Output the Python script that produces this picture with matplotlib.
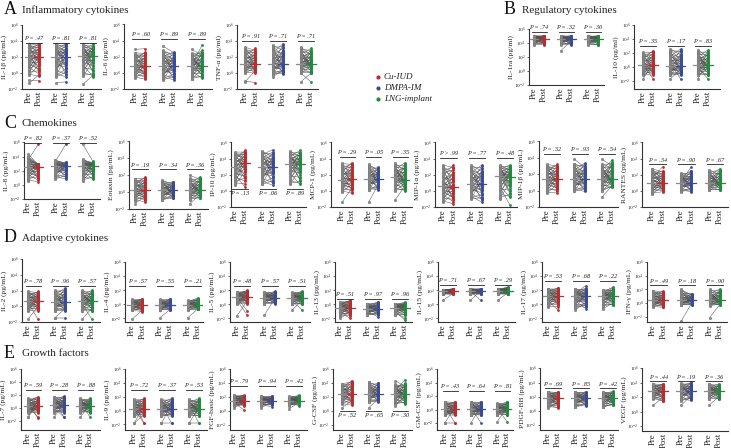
import matplotlib
matplotlib.use("Agg")
import matplotlib.pyplot as plt
from matplotlib.ticker import FixedLocator, LogFormatterSciNotation
from matplotlib.collections import LineCollection

plt.rcParams['font.family'] = ['Liberation Serif', 'DejaVu Serif']
plt.rcParams['mathtext.fontset'] = 'stix'

# ---------------- data (log10 pg/mL) ----------------
GROUPS = ["Cu-IUD", "DMPA-IM", "LNG-implant"]
GROUP_COLORS = ["#BE2A2E", "#3A4A9A", "#1F8B3F"]
TIMEPOINTS = ["Pre", "Post"]

CYTOKINES = ["IL-1β", "IL-6", "TNF-α", "IL-1ra", "IL-10",
             "IL-8", "Eotaxin", "IP-10", "MCP-1", "MIP-1α", "MIP-1β", "RANTES",
             "IL-2", "IL-4", "IL-5", "IL-13", "IL-15", "IL-17", "IFN-γ",
             "IL-7", "IL-9", "FGF-basic", "G-CSF", "GM-CSF", "PDGF-BB", "VEGF"]
UNITS = ["(pg/mL)", "(pg/ml)", "(pg/ml)", "(pg/ml)", "(pg/ml)"] + ["(pg/mL)"] * 21

P_VALUES = [["= .47", "= .81", "= .81"], ["= .60", "= .89", "= .89"], ["= .91", "= .71", "= .71"],
            ["= .74", "= .32", "= .36"], ["= .35", "= .17", "= .83"],
            ["= .82", "= .37", "= .52"], ["= .19", "= .34", "= .36"], ["= .13", "= .06", "= .89"],
            ["= .29", "= .05", "= .35"], ["> .99", "= .77", "= .48"], ["= .32", "= .93", "= .54"],
            ["= .34", "= .90", "= .67"],
            ["= .78", "= .96", "= .57"], ["= .57", "= .55", "= .21"], ["= .48", "= .57", "= .51"],
            ["= .51", "= .97", "= .96"], ["= .71", "= .67", "= .29"], ["= .53", "= .68", "= .22"],
            ["= .49", "= .18", "= .90"],
            ["= .59", "= .28", "= .88"], ["= .72", "= .37", "= .53"], ["= .79", "= .94", "= .42"],
            ["= .52", "= .65", "= .30"], ["= .43", "= .64", "= .81"], ["= .69", "= .85", "= .42"],
            ["= .44", "= .19", "= .36"]]

# main body of each column: low, median, high (log10), per group
PRE_LO = [[-0.3, -0.5, -0.4], [-0.6, -0.85, -0.8], [0.0, -0.2, 0.0], [3.8, 3.8, 3.8], [-1.2, -1.2, -1.2],
          [0.6, 0.85, 0.6], [-1.0, -0.95, -0.9], [0.7, 0.8, 0.8], [-0.1, 0.1, 0.0], [-1.4, -1.0, -1.0],
          [-0.3, -0.1, -0.1], [-0.4, -0.1, 0.07],
          [-0.6, -0.6, -0.6], [-0.8, -0.8, -0.8], [0.1, 0.1, 0.0], [-1.6, -1.5, -1.5], [1.45, 1.45, 1.45],
          [-0.35, -0.5, -0.3], [-0.55, -0.3, -0.4],
          [-0.7, -0.7, -0.7], [-0.8, -0.8, -0.8], [0.8, 0.8, 0.8], [1.0, 1.3, 1.0], [-0.8, -0.8, -0.75],
          [0.5, 0.5, 0.5], [1.75, 1.5, 1.75]]
PRE_MED = [[2.0, 2.0, 2.1], [0.8, 0.85, 0.85], [1.2, 1.2, 1.2], [4.6, 4.6, 4.6], [0.2, 0.1, 0.2],
           [2.5, 2.6, 2.7], [0.2, 0.2, 0.2], [2.95, 2.95, 3.3], [1.3, 1.5, 1.7], [0.57, 0.9, 1.9],
           [1.4, 1.4, 1.4], [1.0, 1.0, 1.0],
           [0.65, 0.5, 0.65], [-0.1, -0.1, -0.1], [1.05, 0.95, 0.95], [-0.45, -0.6, -0.45], [1.9, 1.9, 1.9],
           [1.15, 1.15, 1.15], [0.4, 0.4, 0.4],
           [0.3, 0.45, 0.3], [0.3, 0.3, 0.3], [1.5, 1.5, 1.5], [2.5, 2.5, 2.4], [0.05, 0.05, 0.1],
           [1.75, 1.75, 1.75], [2.8, 2.85, 2.8]]
PRE_HI = [[3.7, 3.7, 3.7], [2.5, 2.8, 2.5], [3.25, 3.5, 3.3], [5.1, 5.1, 5.1], [2.1, 2.6, 2.45],
          [4.0, 3.5, 3.6], [1.6, 1.4, 1.7], [4.8, 4.9, 4.9], [3.4, 3.3, 3.4], [3.2, 3.2, 3.2],
          [3.2, 3.3, 3.3], [2.75, 2.2, 2.6],
          [1.9, 2.05, 2.05], [0.73, 0.73, 0.6], [1.75, 1.75, 1.75], [0.35, 0.1, 0.1], [2.1, 2.25, 2.25],
          [2.25, 2.25, 2.1], [1.8, 2.0, 2.0],
          [1.5, 1.75, 1.5], [1.65, 1.65, 1.65], [2.3, 2.15, 2.15], [3.95, 4.2, 3.9], [1.2, 1.2, 0.95],
          [2.7, 2.7, 2.7], [3.85, 3.9, 3.85]]
POST_LO = [[-0.4, -0.5, -0.45], [-0.8, -0.85, -0.6], [0.0, -0.1, 0.0], [3.8, 3.8, 3.7], [-1.2, -1.2, -1.2],
           [0.4, 0.85, 0.85], [-1.15, -0.75, -0.75], [0.9, 0.7, 0.8], [-0.3, 0.1, 0.0], [-1.6, -1.4, -0.8],
           [-0.3, -0.1, 0.4], [-0.1, -0.1, 0.07],
           [-0.6, -0.6, -0.6], [-1.05, -0.8, -0.7], [0.1, 0.1, 0.0], [-1.6, -1.5, -1.5], [1.45, 1.45, 1.45],
           [-0.3, -0.4, -0.1], [-0.65, -0.3, -0.3],
           [-0.7, -0.7, -0.7], [-0.8, -0.8, -0.8], [0.8, 0.9, 1.0], [0.85, 1.3, 1.1], [-0.8, -0.8, -0.75],
           [0.5, 0.7, 0.8], [1.45, 1.55, 1.75]]
POST_MED = [[2.0, 2.0, 2.1], [0.8, 0.85, 0.85], [1.2, 1.2, 1.2], [4.6, 4.6, 4.6], [0.2, 0.1, 0.2],
            [2.5, 2.6, 2.7], [0.2, 0.2, 0.2], [3.4, 2.95, 3.3], [1.5, 1.5, 1.3], [0.5, 0.9, 1.7],
            [1.4, 1.4, 1.4], [1.0, 1.0, 1.0],
            [0.65, 0.5, 0.65], [-0.1, -0.1, -0.1], [1.05, 0.95, 0.95], [-0.45, -0.6, -0.45], [1.9, 1.9, 1.9],
            [1.15, 1.15, 1.15], [0.4, 0.4, 0.4],
            [0.3, 0.45, 0.3], [0.3, 0.3, 0.3], [1.5, 1.5, 1.5], [2.5, 2.5, 2.4], [0.05, 0.05, 0.1],
            [1.75, 1.75, 1.75], [2.8, 2.85, 2.8]]
POST_HI = [[3.7, 3.7, 3.6], [2.6, 2.6, 2.8], [3.1, 3.7, 3.1], [5.1, 5.1, 5.1], [2.35, 2.6, 2.45],
           [3.0, 3.2, 3.2], [1.8, 1.2, 1.8], [5.0, 4.8, 5.0], [3.5, 2.9, 3.5], [3.2, 3.2, 3.2],
           [3.2, 3.35, 3.7], [2.5, 2.5, 2.75],
           [1.9, 2.35, 2.05], [0.8, 0.8, 0.95], [2.0, 1.85, 1.9], [0.6, 0.35, 0.35], [2.25, 2.25, 2.5],
           [2.4, 2.3, 2.5], [1.8, 1.4, 2.1],
           [1.75, 1.85, 1.5], [1.8, 1.8, 1.8], [2.3, 2.15, 2.3], [4.4, 4.05, 4.0], [1.2, 1.2, 1.2],
           [2.7, 2.7, 2.8], [3.85, 4.05, 3.85]]

# relative position of each subject inside the body (-1 = low, 0 = median, 1 = high), per group
Z_PRE = [
    [-1.00, -0.93, -0.85, -0.78, -0.70, -0.62, -0.55, -0.48, -0.41, -0.35, -0.28, -0.22, -0.16, -0.10,
     -0.05, 0.00, 0.04, 0.09, 0.14, 0.19, 0.25, 0.31, 0.37, 0.43, 0.49, 0.55, 0.61, 0.67, 0.73, 0.79,
     0.85, 0.91, 0.96, 1.00, -0.30, 0.22],
    [-0.97, -0.90, -0.82, -0.74, -0.66, -0.58, -0.51, -0.44, -0.37, -0.30, -0.24, -0.18, -0.12, -0.07,
     -0.02, 0.03, 0.08, 0.13, 0.18, 0.24, 0.30, 0.36, 0.42, 0.48, 0.54, 0.60, 0.66, 0.72, 0.78, 0.84,
     0.90, 0.95, 1.00, -1.00, 0.10, -0.40],
    [-1.00, -0.88, -0.80, -0.71, -0.64, -0.57, -0.50, -0.43, -0.36, -0.29, -0.23, -0.17, -0.11, -0.06,
     -0.01, 0.05, 0.10, 0.15, 0.21, 0.27, 0.33, 0.39, 0.45, 0.51, 0.57, 0.63, 0.69, 0.75, 0.81, 0.87,
     0.93, 1.00, -0.95, 0.40, -0.20, 0.65]]
Z_POST = [
    [-0.40, -1.00, 0.15, -0.72, -0.20, 0.35, -0.88, -0.05, -0.60, 0.50, -0.30, 0.10, -0.45, 0.70,
     -0.12, 0.25, -0.55, 0.40, 0.00, 0.85, -0.25, 0.60, -0.80, 0.30, 1.00, -0.15, 0.78, 0.05, 0.92,
     0.45, -0.35, 0.65, 0.20, 0.88, -0.65, 0.55],
    [0.20, -0.60, -1.00, 0.45, -0.85, 0.05, -0.30, 0.70, -0.50, -0.10, 0.30, -0.70, 0.55, 0.00,
     -0.40, 0.95, -0.20, 0.15, -0.90, 0.60, 0.38, -0.05, 0.80, -0.35, 0.25, 1.00, -0.15, 0.50, 0.10,
     -0.55, 0.85, 0.35, 0.65, -0.75, 0.40, -0.25],
    [-0.25, 0.40, -0.95, -0.10, 0.60, -0.65, 0.15, -1.00, 0.35, -0.45, 0.80, -0.20, 0.05, 0.50,
     -0.70, 0.25, -0.35, 0.90, -0.05, 0.45, -0.80, 0.70, 0.10, -0.55, 1.00, 0.30, -0.15, 0.65, -0.40,
     0.85, 0.20, 0.55, -0.85, 0.00, 0.75, -0.30]]

# subjects lying outside the main body: (panel index, group, pre, post)
EXTRA_SUBJECTS = [
    (0, 0, -1.3, -0.2), (0, 0, -0.9, -0.95), (0, 1, -1.2, -1.1), (0, 2, -1.4, -0.3),
    (1, 0, 2.9, 3.0), (1, 1, 3.3, 2.5), (1, 2, 1.0, 3.4), (1, 2, 2.9, 2.2),
    (2, 0, -1.0, -1.2), (2, 0, -1.1, 0.3), (2, 1, -0.45, 0.4), (2, 2, -1.1, 0.0), (2, 2, 0.0, -1.1),
    (3, 1, 2.95, 4.3),
    (4, 0, -1.75, 0.5), (4, 0, 0.3, -1.75), (4, 1, -1.75, -0.3), (4, 1, 0.5, -1.75),
    (4, 2, -1.75, 0.8), (4, 2, 0.0, -1.75),
    (5, 0, 3.5, 5.7), (5, 0, 4.4, 2.8), (5, 1, 3.3, 5.7), (5, 2, 5.7, 3.3),
    (6, 0, -1.35, -0.5), (6, 2, 2.0, 1.5), (6, 2, -1.35, -0.3),
    (7, 0, 2.0, 0.45), (7, 1, 4.5, 5.1),
    (8, 0, -1.4, 0.3), (8, 1, -1.4, 0.8), (8, 2, -1.1, 0.6),
    (9, 2, 0.5, -1.75),
    (10, 1, 3.85, 2.8), (10, 2, 3.85, 3.0), (10, 2, -0.8, 0.6),
    (11, 0, 1.5, 3.0), (11, 1, 1.2, 2.95),
    (12, 0, -1.65, 0.0), (12, 0, 0.5, -1.65), (12, 1, -1.45, -0.3), (12, 1, -1.45, -1.45),
    (12, 2, -1.65, -0.2), (12, 2, 0.3, -1.65),
    (13, 0, -2.1, -0.8), (13, 1, -1.9, -0.7), (13, 2, -1.9, -0.6),
    (14, 0, -1.6, 0.5), (14, 0, 0.6, -1.5), (14, 0, 1.0, -0.9), (14, 1, -1.5, 0.8),
    (14, 2, -0.85, 0.6), (14, 2, 0.5, -0.75),
    (15, 0, -2.0, -1.0), (15, 0, -1.0, -2.0), (15, 1, -1.0, -1.75), (15, 2, -1.0, -2.2), (15, 2, -1.2, -1.9),
    (16, 0, 0.6, 1.6), (16, 1, 0.6, 1.9), (16, 1, 1.9, 0.6), (16, 2, 0.6, 1.7),
    (17, 0, 0.5, -0.8), (17, 1, -0.8, 0.3), (17, 1, 1.5, 2.7), (17, 1, 0.5, -0.6), (17, 2, -0.6, 0.2),
    (18, 1, -2.65, 0.0), (18, 2, -2.15, -0.2),
    (19, 0, -1.4, 0.5), (19, 0, 1.0, -1.5), (19, 0, 0.3, -1.4), (19, 0, -1.4, 1.2),
    (19, 1, -1.4, 0.8), (19, 1, 1.2, -1.4), (19, 1, 0.0, -1.4), (19, 2, -1.4, 0.6), (19, 2, 1.0, -1.4),
    (20, 0, -1.85, 0.8), (20, 0, 1.2, -1.85), (20, 0, 0.3, -1.85), (20, 0, -1.85, -0.5),
    (20, 1, -1.85, 1.0), (20, 1, 1.0, -1.85), (20, 1, -1.85, -1.85),
    (20, 2, -1.85, 0.5), (20, 2, 1.0, -1.85), (20, 2, -1.85, -1.85),
    (21, 0, 0.5, 1.2), (21, 0, 1.2, 0.15), (21, 1, 0.5, 1.3), (21, 1, 1.0, 0.6),
    (21, 2, 0.35, 1.2), (21, 2, 1.2, 0.8),
    (22, 0, 0.5, 1.5), (22, 1, 0.5, 1.7), (22, 2, 4.4, 3.5), (22, 2, 0.7, 2.2), (22, 2, 3.0, 4.5),
    (23, 0, -1.9, 0.3), (23, 0, 0.5, -1.9), (23, 0, -1.9, -1.9), (23, 1, -1.9, 0.5), (23, 1, 0.3, -1.9),
    (23, 2, -1.75, 0.4), (23, 2, 0.2, -1.75),
    (24, 0, 0.35, 1.2), (24, 0, 1.0, 0.35), (24, 2, 0.5, 1.0),
    (25, 0, 0.85, 2.0), (25, 0, 2.0, 1.45), (25, 1, 0.85, 2.2), (25, 2, 0.85, 2.1)]

# ---------------- layout (pixels) ----------------
W, H, DPI = 731, 448, 100
# spine x, first Pre x, last Post x, right end x, top y (10^6), bottom y, log10 of axis bottom
PANEL_BOX = [(22, 29, 93, 101, 25, 89, -2), (124, 135, 202, 212, 24, 89, -2), (237, 245, 311, 318, 25, 89, -2),
             (529, 534, 598, 604, 29, 85, -2), (634, 643, 708, 720, 25, 89, -3.2),
             (24, 28, 93, 100, 142, 199, -2), (129, 135, 200, 208, 141, 209, -2), (231, 235, 300, 306, 142, 207, -2),
             (331, 342, 405, 412, 142, 207, -2), (435, 443, 510, 517, 142, 207, -2),
             (539, 547, 612, 618, 141, 207, -2), (642, 652, 720, 728, 142, 207, -2),
             (22, 28, 92, 100, 259, 322, -2), (125, 132, 198, 203, 262, 322, -2.5), (230, 237, 302, 310, 262, 322, -2.5),
             (335, 340, 405, 412, 262, 322, -2.5), (438, 443, 508, 515, 262, 322, -2.5),
             (542, 548, 613, 620, 262, 322, -2.5), (647, 653, 720, 727, 262, 322, -2.8),
             (21, 28, 90, 100, 369, 430, -3.4), (125, 134, 199, 207, 369, 430, -2.8), (230, 234, 299, 307, 369, 430, -2.7),
             (333, 342, 405, 412, 369, 430, -2.7), (437, 445, 507, 513, 369, 430, -3.0),
             (540, 548, 613, 618, 368, 430, -2.7), (642, 653, 719, 728, 368, 431, -2.7)]
P_BAR = [3.8, 4.2, 4.1, 5.6, 3.0, 5.9, 2.7, 0.2, 4.2, 4.05, 4.5, 3.3,
         2.6, 2.7, 2.7, 0.8, 2.8, 3.4, 2.6, 2.8, 3.0, 3.6, 0.05, 2.8, 3.2, 4.2]
P_BELOW = [7, 22]
PRE_X = [0.0, 2.7, 5.4]
POST_X = [1.0, 3.7, 6.4]

SECTIONS = [("A", "Inflammatory cytokines", 4, 10), ("B", "Regulatory cytokines", 504, 10),
            ("C", "Chemokines", 4, 123), ("D", "Adaptive cytokines", 4, 238), ("E", "Growth factors", 4, 353)]


def body(z, lo, med, hi):
    return med + z * (hi - med) if z >= 0 else med + z * (med - lo)


fig = plt.figure(figsize=(W / DPI, H / DPI), dpi=DPI)
fig.patch.set_facecolor("white")

for i, name in enumerate(CYTOKINES):
    sp, p1, p3, end, top, bot, ylo = PANEL_BOX[i]
    ax = fig.add_axes([sp / W, 1 - bot / H, (end - sp) / W, (bot - top) / H])
    unit = (p3 - p1) / 6.4
    ax.set_xlim(-(p1 - sp) / unit, 6.4 + (end - p3) / unit)
    ax.set_yscale("log")
    ax.set_ylim(10 ** ylo, 10 ** 6.05)
    for g in range(3):
        pre = [body(z, PRE_LO[i][g], PRE_MED[i][g], PRE_HI[i][g]) for z in Z_PRE[g]]
        post = [body(z, POST_LO[i][g], POST_MED[i][g], POST_HI[i][g]) for z in Z_POST[g]]
        for (pi, gi, a, b) in EXTRA_SUBJECTS:
            if pi == i and gi == g:
                pre.append(a)
                post.append(b)
        segs = [[(PRE_X[g], 10 ** a), (POST_X[g], 10 ** b)] for a, b in zip(pre, post)]
        ax.add_collection(LineCollection(segs, colors="#505050", linewidths=0.35, zorder=1))
        ax.plot([PRE_X[g]] * len(pre), [10 ** v for v in pre], "o", ms=2.0, color="#8c8c8c",
                mec="#6e6e6e", mew=0.2, zorder=2)
        ax.plot([POST_X[g]] * len(post), [10 ** v for v in post], "o", ms=2.0, color=GROUP_COLORS[g],
                mec="none", zorder=2)
        # medians
        ax.plot([PRE_X[g] - 0.45, PRE_X[g] + 0.5], [10 ** PRE_MED[i][g]] * 2, color="#8c8c8c", lw=0.9, zorder=3)
        ax.plot([POST_X[g] - 0.5, POST_X[g] + 0.45], [10 ** POST_MED[i][g]] * 2, color=GROUP_COLORS[g],
                lw=0.9, zorder=3)
        # P value annotation
        yb = 10 ** P_BAR[i]
        ax.plot([PRE_X[g] - 0.25, POST_X[g] + 0.3], [yb, yb], color="#222222", lw=0.6, zorder=3)
        below = i in P_BELOW
        ax.annotate("P " + P_VALUES[i][g], xy=((PRE_X[g] + POST_X[g]) / 2, yb),
                    xytext=(0, -1.5 if below else 1.2), textcoords="offset points",
                    ha="center", va="top" if below else "bottom", fontsize=4.5, style="italic",
                    color="#222222")
    for s in ("top", "right"):
        ax.spines[s].set_visible(False)
    for s in ("left", "bottom"):
        ax.spines[s].set_linewidth(0.8)
        ax.spines[s].set_color("#333333")
    ax.yaxis.set_major_locator(FixedLocator([1e-2, 1, 1e2, 1e4, 1e6]))
    ax.yaxis.set_major_formatter(LogFormatterSciNotation())
    ax.yaxis.set_minor_locator(FixedLocator([]))
    ax.tick_params(axis="y", labelsize=3.9, length=1.8, width=0.5, pad=0.6, colors="#333333")
    ticks = []
    labels = []
    for g in range(3):
        ticks += [PRE_X[g], POST_X[g]]
        labels += TIMEPOINTS
    ax.set_xticks(ticks)
    ax.set_xticklabels(labels, rotation=90, fontsize=6.3)
    ax.tick_params(axis="x", length=0, pad=1.5, colors="#222222")
    ax.set_ylabel(f"{name} {UNITS[i]}", fontsize=5.4, labelpad=0.4, color="#222222")
    ax.patch.set_visible(False)

ov = fig.add_axes([0, 0, 1, 1])
ov.set_xlim(0, W)
ov.set_ylim(H, 0)
ov.axis("off")
ov.patch.set_visible(False)
for letter, title, x, y in SECTIONS:
    ov.text(x, y, letter, fontsize=13, va="center", ha="left", color="#111111")
    ov.text(x + 18, y + 0.5, title, fontsize=8, va="center", ha="left", color="#222222")
for g, lab in enumerate(GROUPS):
    yy = 77 + 11 * g
    ov.plot([378], [yy], "o", ms=3, color=GROUP_COLORS[g], mec="none")
    ov.text(384, yy, lab, fontsize=6.5, style="italic", va="center", ha="left", color="#222222")

fig.savefig("out.png", dpi=DPI, facecolor="white")
